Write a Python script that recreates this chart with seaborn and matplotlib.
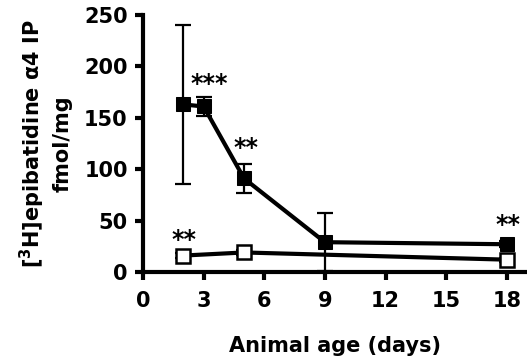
import numpy as np
import pandas as pd
import seaborn as sns
import matplotlib.pyplot as plt

# values
age_filled = [2, 3, 5, 9, 18]
binding_filled = [163, 161, 91, 29, 27]
sem_filled = [77, 9, 14, 28, 3]

age_open = [2, 5, 18]
binding_open = [16, 19, 12]
sem_open = [2, 2, 2]

x_ticks = [0, 3, 6, 9, 12, 15, 18]
y_ticks = [0, 50, 100, 150, 200, 250]

# significance stars: (x, baseline y, text)
stars = [(3.3, 176, "***"), (5.1, 114, "**"), (2.05, 24, "**"), (18.05, 39, "**")]

sns.set_style("ticks", {"axes.edgecolor": "black", "text.color": "black",
                        "xtick.color": "black", "ytick.color": "black",
                        "axes.labelcolor": "black"})
plt.rcParams["font.family"] = ["DejaVu Sans"]
plt.rcParams["font.weight"] = "bold"

fig = plt.figure(figsize=(5.27, 3.6), dpi=100)
ax = fig.add_axes([143 / 527, 1 - 272 / 360, 384 / 527, 257 / 360])

df_f = pd.DataFrame({"age": age_filled, "binding": binding_filled})
df_o = pd.DataFrame({"age": age_open, "binding": binding_open})

# error bars first, so markers sit on top
ax.errorbar(age_filled, binding_filled, yerr=sem_filled, fmt="none", ecolor="black",
            elinewidth=1.6, capsize=6, capthick=1.6, zorder=2)
ax.errorbar(age_open, binding_open, yerr=sem_open, fmt="none", ecolor="black",
            elinewidth=1.6, capsize=6, capthick=1.6, zorder=2)

sns.lineplot(data=df_o, x="age", y="binding", ax=ax, color="black", lw=3,
             marker="s", markersize=10, markerfacecolor="white",
             markeredgecolor="black", markeredgewidth=1.8, zorder=3)
sns.lineplot(data=df_f, x="age", y="binding", ax=ax, color="black", lw=3,
             marker="s", markersize=10, markerfacecolor="black",
             markeredgecolor="black", zorder=4)

for x, y, t in stars:
    ax.text(x, y, t, ha="center", va="baseline", fontsize=17, fontweight="bold")

ax.set_xlim(0, 19)
ax.set_ylim(0, 250)
ax.set_xticks(x_ticks)
ax.set_yticks(y_ticks)
ax.tick_params(width=3, length=6, labelsize=15, pad=5)
ax.tick_params(axis="x", pad=8)
for lab in ax.get_xticklabels() + ax.get_yticklabels():
    lab.set_fontweight("bold")
for s in ["left", "bottom"]:
    ax.spines[s].set_linewidth(3)
sns.despine(ax=ax)

ax.set_xlabel("Animal age (days)", fontsize=15, fontweight="bold", labelpad=18)
ax.set_ylabel("[$^\\mathbf{3}$H]epibatidine α4 IP\nfmol/mg", fontsize=15, fontweight="bold",
              labelpad=8, linespacing=1.4)

fig.savefig("out.png", dpi=100)
